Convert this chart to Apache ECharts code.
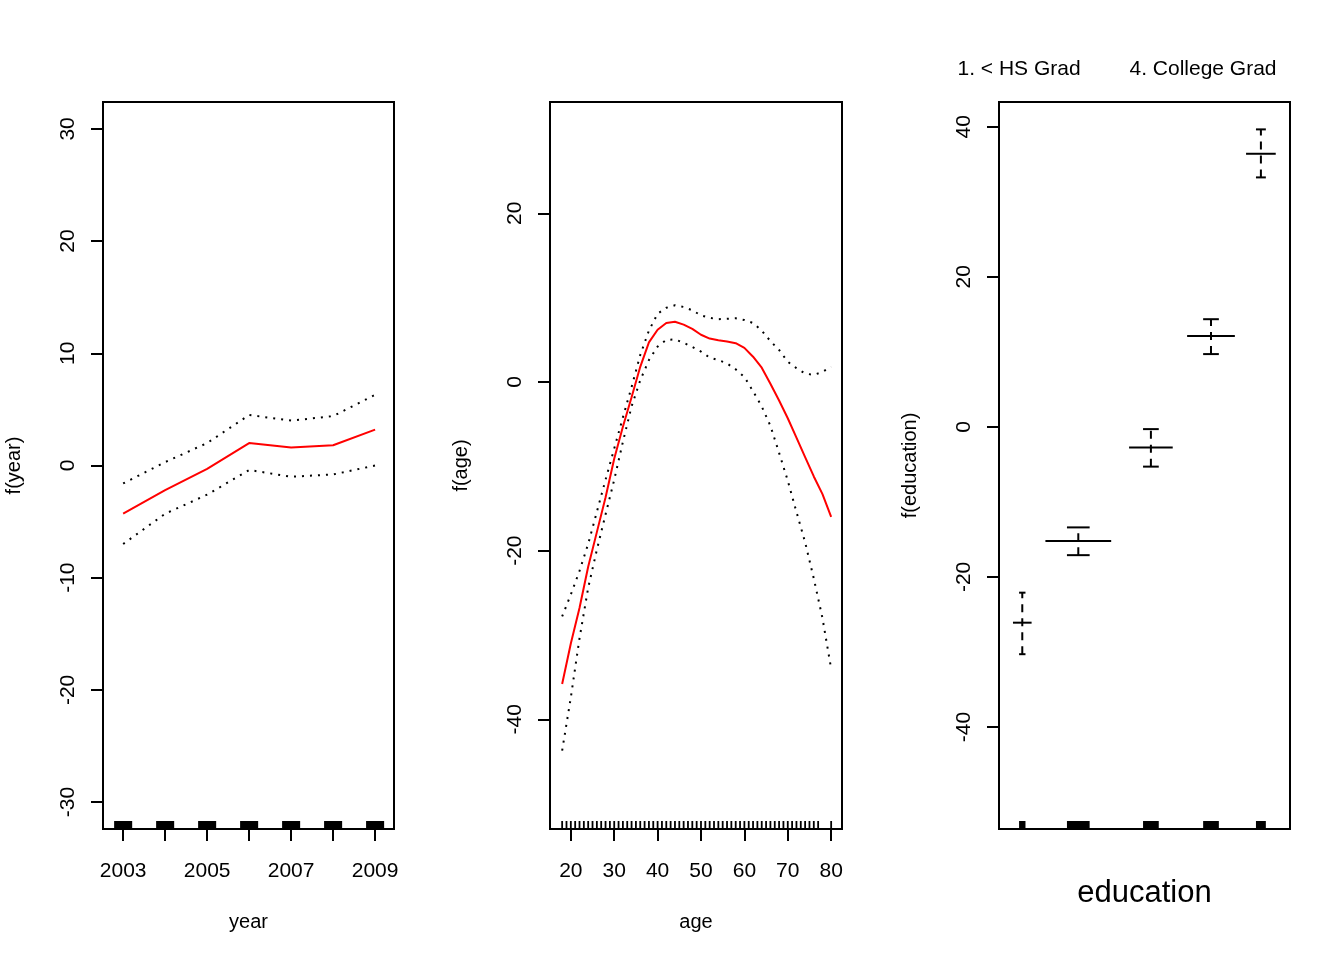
<!DOCTYPE html>
<html>
<head>
<meta charset="utf-8">
<script src="https://cdn.jsdelivr.net/npm/echarts@6/dist/echarts.min.js"></script>
<style>
  html, body { margin: 0; padding: 0; background: #fff; }
  #chart { width: 1344px; height: 960px; }
</style>
</head>
<body>
<div id="chart"></div>
<script>
// year panel
const years = [2003, 2004, 2005, 2006, 2007, 2008, 2009];
const yearFit = [-4.3, -2.2, -0.3, 2.0, 1.6, 1.8, 3.2];
const yearUpper = [-1.6, 0.3, 2.0, 4.5, 4.0, 4.4, 6.3];
const yearLower = [-7.0, -4.3, -2.6, -0.4, -1.0, -0.8, 0.0];
const yearTicks = [-30, -20, -10, 0, 10, 20, 30];
const yearLabels = [2003, 2005, 2007, 2009];

// age panel
const ages = [18, 20, 22, 24, 26, 28, 30, 32, 34, 36, 38, 40, 42, 44, 46, 48,
  50, 52, 54, 56, 58, 60, 62, 64, 66, 68, 70, 72, 74, 76, 78, 80];
const ageFit = [-35.8, -31.0, -26.8, -21.9, -17.8, -13.7, -9.1, -5.3, -1.8, 1.8,
  4.7, 6.2, 7.0, 7.15, 6.8, 6.3, 5.6, 5.15, 4.95, 4.8, 4.6, 4.05, 3.0, 1.7,
  -0.2, -2.2, -4.3, -6.6, -8.9, -11.2, -13.3, -16.0];
const ageUpper = [-27.8, -25.2, -22.4, -19.2, -15.4, -11.6, -7.9, -4.2, -0.6, 3.2,
  6.1, 8.1, 8.8, 9.1, 8.9, 8.5, 7.9, 7.6, 7.45, 7.5, 7.55, 7.35, 7.0, 6.1,
  4.85, 3.8, 2.4, 1.65, 1.0, 0.85, 1.2, 1.8];
const ageLower = [-43.7, -37.4, -30.4, -24.4, -19.9, -15.7, -11.6, -7.1, -2.9, 0.2,
  2.6, 4.2, 5.0, 5.05, 4.65, 4.15, 3.6, 2.9, 2.6, 2.2, 1.5, 0.6, -1.1, -2.9,
  -5.2, -8.4, -11.7, -15.4, -19.0, -23.3, -28.0, -34.0];
const ageRug = [18, 19, 20, 21, 22, 23, 24, 25, 26, 27, 28, 29, 30, 31, 32, 33, 34,
  35, 36, 37, 38, 39, 40, 41, 42, 43, 44, 45, 46, 47, 48, 49, 50, 51, 52, 53, 54,
  55, 56, 57, 58, 59, 60, 61, 62, 63, 64, 65, 66, 67, 68, 69, 70, 71, 72, 73, 74,
  75, 76, 77, 80];
const ageTicks = [20, 30, 40, 50, 60, 70, 80];
const ageYTicks = [-40, -20, 0, 20];

// education panel (x in 0..1 level scale)
const eduLevels = ['1. < HS Grad', '2. HS Grad', '3. Some College', '4. College Grad', '5. Advanced Degree'];
const eduPos = [0.080, 0.2725, 0.522, 0.7285, 0.900];
const eduFit = [-26.1, -15.2, -2.75, 12.1, 36.4];
const eduUpper = [-22.1, -13.4, -0.3, 14.35, 39.65];
const eduLower = [-30.3, -17.1, -5.3, 9.7, 33.25];
const eduLineHalf = [0.032, 0.113, 0.075, 0.082, 0.051];
const eduCapHalf = [0.011, 0.039, 0.027, 0.027, 0.017];
const eduYTicks = [-40, -20, 0, 20, 40];
// top level labels: level index and its label position on the level scale
const eduTopLabels = [0, 3];
const eduTopPos = [0.069, 0.701];

const Y1 = [-32.4, 32.4], Y2 = [-53.0, 33.2], Y3 = [-53.6, 43.3];
const FONT = 'Liberation Sans, Arial, sans-serif';

const chart = echarts.init(document.getElementById('chart'));

const pairs = (xs, ys) => xs.map((x, i) => [x, ys[i]]);

function yAxisCfg(gi, range, ticks, name) {
  return {
    type: 'value', gridIndex: gi, min: range[0], max: range[1],
    name: name, nameLocation: 'middle', nameGap: 79,
    nameTextStyle: { fontFamily: FONT, fontSize: 20, color: '#000' },
    nameRotate: 90,
    splitLine: { show: false },
    axisLine: { show: false },
    axisTick: { show: true, length: 12, lineStyle: { color: '#000', width: 2 }, customValues: ticks },
    axisLabel: { rotate: 90, margin: 24, fontFamily: FONT, fontSize: 21, color: '#000', customValues: ticks }
  };
}

function xAxisCfg(gi, min, max, ticks, labels, name) {
  return {
    type: 'value', gridIndex: gi, min: min, max: max,
    name: name, nameLocation: 'middle', nameGap: 83,
    nameTextStyle: { fontFamily: FONT, fontSize: 20, color: '#000' },
    splitLine: { show: false },
    axisLine: { show: false, onZero: false },
    axisTick: { show: true, length: 12, lineStyle: { color: '#000', width: 2 }, customValues: ticks },
    axisLabel: { margin: 32, fontFamily: FONT, fontSize: 21, color: '#000', customValues: labels,
      formatter: v => String(v) }
  };
}

const dotted = { color: '#000', width: 2, type: [2, 6] };
const redLine = { color: '#ff0000', width: 2 };

function lineSeries(xi, data, style) {
  return {
    type: 'line', xAxisIndex: xi, yAxisIndex: xi, data: data,
    showSymbol: false, symbol: 'none', lineStyle: style, silent: true, animation: false
  };
}

function blockRug(xi, xs, halves, yMin) {
  return {
    type: 'custom', xAxisIndex: xi, yAxisIndex: xi, animation: false, silent: true,
    data: xs.map((x, i) => [x, 0, halves[i]]),
    encode: { x: 0, y: 1 },
    renderItem: function (params, api) {
      const x = api.value(0), h = api.value(2);
      const a = api.coord([x - h, yMin]);
      const b = api.coord([x + h, yMin]);
      return { type: 'rect', shape: { x: a[0], y: a[1] - 8, width: b[0] - a[0], height: 8 }, style: { fill: '#000' } };
    }
  };
}

const option = {
  backgroundColor: '#fff',
  animation: false,
  grid: [
    { left: 103, top: 102, width: 291, height: 727, show: true, borderColor: '#000', borderWidth: 2, backgroundColor: 'transparent' },
    { left: 550, top: 102, width: 292, height: 727, show: true, borderColor: '#000', borderWidth: 2, backgroundColor: 'transparent' },
    { left: 999, top: 102, width: 291, height: 727, show: true, borderColor: '#000', borderWidth: 2, backgroundColor: 'transparent' }
  ],
  xAxis: [
    xAxisCfg(0, 2002.52, 2009.45, years, yearLabels, 'year'),
    xAxisCfg(1, 15.2, 82.5, ageTicks, ageTicks, 'age'),
    {
      type: 'value', gridIndex: 2, min: 0, max: 1,
      name: 'education', nameLocation: 'middle', nameGap: 49,
      nameTextStyle: { fontFamily: FONT, fontSize: 31, color: '#000' },
      splitLine: { show: false }, axisLine: { show: false, onZero: false },
      axisTick: { show: false }, axisLabel: { show: false }
    },
    {
      type: 'value', gridIndex: 2, min: 0, max: 1, position: 'top',
      splitLine: { show: false }, axisLine: { show: false, onZero: false },
      axisTick: { show: false },
      axisLabel: {
        margin: 22, fontFamily: FONT, fontSize: 21, color: '#000',
        customValues: eduTopPos,
        formatter: v => eduLevels[eduTopLabels[eduTopPos.indexOf(v)]]
      }
    }
  ],
  yAxis: [
    yAxisCfg(0, Y1, yearTicks, 'f(year)'),
    yAxisCfg(1, Y2, ageYTicks, 'f(age)'),
    yAxisCfg(2, Y3, eduYTicks, 'f(education)'),
    { type: 'value', gridIndex: 2, min: Y3[0], max: Y3[1], show: false }
  ],
  series: [
    lineSeries(0, pairs(years, yearUpper), dotted),
    lineSeries(0, pairs(years, yearLower), dotted),
    lineSeries(0, pairs(years, yearFit), redLine),
    blockRug(0, years, years.map(() => 0.215), Y1[0]),

    lineSeries(1, pairs(ages, ageUpper), dotted),
    lineSeries(1, pairs(ages, ageLower), dotted),
    lineSeries(1, pairs(ages, ageFit), redLine),
    {
      type: 'custom', xAxisIndex: 1, yAxisIndex: 1, animation: false, silent: true,
      data: ageRug.map(a => [a, 0]),
      encode: { x: 0, y: 1 },
      renderItem: function (params, api) {
        const p = api.coord([api.value(0), Y2[0]]);
        return { type: 'line', shape: { x1: p[0], y1: p[1], x2: p[0], y2: p[1] - 8 }, style: { stroke: '#000', lineWidth: 1.8 } };
      }
    },

    blockRug(2, eduPos, eduCapHalf, Y3[0]),
    {
      type: 'custom', xAxisIndex: 2, yAxisIndex: 2, animation: false, silent: true,
      data: eduPos.map((p, i) => [p, eduFit[i], eduLower[i], eduUpper[i], eduLineHalf[i], eduCapHalf[i]]),
      encode: { x: 0, y: 1 },
      renderItem: function (params, api) {
        const x = api.value(0), f = api.value(1), lo = api.value(2), hi = api.value(3);
        const lh = api.value(4), ch = api.value(5);
        const c = api.coord([x, f]);
        const l1 = api.coord([x - lh, f]), l2 = api.coord([x + lh, f]);
        const pl = api.coord([x, lo]), pu = api.coord([x, hi]);
        const c1 = api.coord([x - ch, 0])[0], c2 = api.coord([x + ch, 0])[0];
        const solid = { stroke: '#000', lineWidth: 2 };
        return {
          type: 'group',
          children: [
            { type: 'line', shape: { x1: pl[0], y1: pl[1], x2: pu[0], y2: pu[1] }, style: { stroke: '#000', lineWidth: 2, lineDash: [8, 6] } },
            { type: 'line', shape: { x1: l1[0], y1: c[1], x2: l2[0], y2: c[1] }, style: solid },
            { type: 'line', shape: { x1: c1, y1: pu[1], x2: c2, y2: pu[1] }, style: solid },
            { type: 'line', shape: { x1: c1, y1: pl[1], x2: c2, y2: pl[1] }, style: solid }
          ]
        };
      }
    }
  ]
};

chart.setOption(option);
</script>
</body>
</html>
